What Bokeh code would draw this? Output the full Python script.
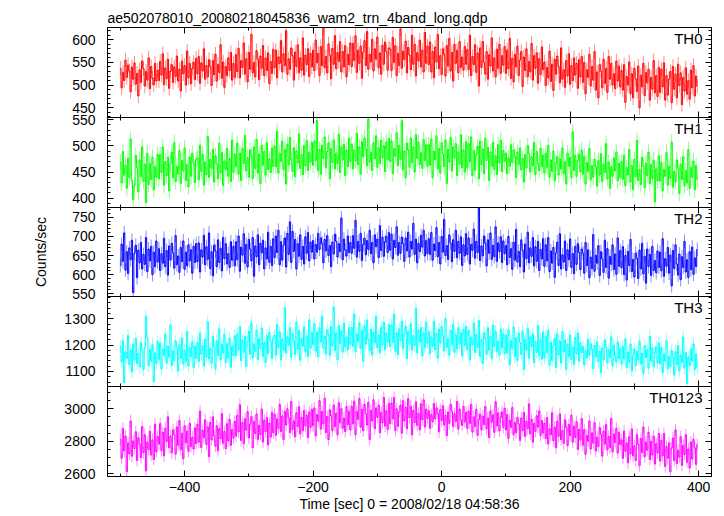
from bokeh.plotting import figure
from bokeh.models import (LinearAxis, SingleIntervalTicker, Range1d, Label,
                          ColumnDataSource, CustomLabelingPolicy)
from bokeh.layouts import column
from bokeh.embed import file_html
from bokeh.resources import INLINE

# ---------------- data (counts/sec, 2 s bins starting at t = -500 s) ----------------
TIME_START = -500
TIME_STEP = 2

TH0 = [
    537, 494, 528, 510, 555, 517, 544, 531, 485, 540, 513, 549, 502, 526, 476, 534, 506, 553, 536, 498, 530, 511, 560, 492, 541, 515, 501, 548, 509, 533,
    510, 552, 522, 569, 501, 538, 514, 557, 493, 531, 545, 506, 540, 519, 564, 509, 535, 487, 553, 525, 543, 500, 575, 516, 548, 503, 537, 550, 512, 559,
    525, 563, 504, 549, 531, 580, 513, 543, 518, 556, 540, 499, 554, 523, 568, 509, 546, 528, 589, 515, 551, 495, 541, 521, 560, 532, 572, 511, 548, 517,
    567, 530, 581, 516, 554, 539, 593, 524, 558, 507, 572, 535, 612, 527, 550, 518, 576, 557, 512, 564, 537, 587, 521, 560, 532, 571, 503, 552, 526, 579,
    538, 577, 516, 562, 548, 598, 529, 569, 543, 620, 524, 558, 535, 582, 565, 511, 573, 541, 589, 527, 560, 533, 604, 522, 566, 545, 580, 519, 570, 540,
    577, 532, 599, 549, 570, 521, 585, 543, 626, 538, 563, 527, 591, 566, 514, 581, 546, 609, 536, 572, 552, 596, 529, 574, 540, 587, 518, 568, 545, 593,
    541, 592, 554, 609, 528, 577, 548, 586, 515, 573, 598, 543, 618, 535, 568, 551, 601, 531, 580, 557, 606, 538, 571, 524, 588, 546, 595, 574, 533, 582,
    579, 532, 605, 550, 587, 521, 570, 543, 624, 537, 575, 556, 597, 527, 583, 566, 534, 610, 546, 590, 520, 572, 553, 599, 540, 577, 529, 616, 548, 586,
    545, 595, 529, 574, 516, 584, 551, 612, 536, 565, 523, 580, 568, 520, 587, 542, 603, 531, 572, 509, 590, 548, 577, 527, 596, 539, 562, 533, 585, 546,
    578, 534, 610, 521, 563, 545, 589, 528, 571, 498, 582, 539, 596, 550, 524, 574, 513, 567, 542, 604, 531, 560, 518, 579, 537, 590, 526, 565, 544, 585,
    526, 577, 536, 603, 515, 559, 507, 568, 540, 586, 521, 555, 574, 497, 562, 532, 580, 518, 552, 529, 592, 511, 565, 537, 571, 504, 558, 523, 584, 534,
    551, 499, 539, 516, 575, 508, 546, 488, 557, 524, 564, 541, 505, 582, 513, 534, 495, 554, 520, 569, 502, 543, 510, 560, 522, 548, 493, 556, 518, 563,
    506, 550, 481, 534, 517, 568, 498, 541, 511, 574, 489, 529, 472, 545, 531, 494, 557, 504, 537, 484, 563, 513, 548, 500, 525, 492, 553, 509, 542, 496,
    532, 489, 545, 462, 519, 500, 551, 481, 525, 472, 537, 514, 486, 542, 450, 522, 496, 548, 477, 528, 505, 535, 467, 517, 491, 554, 483, 521, 475, 539,
    484, 535, 496, 549, 467, 521, 478, 513, 530, 461, 541, 491, 524, 472, 546, 499, 527, 457, 517, 487, 538, 480, 510, 469, 533, 494, 543, 476, 520, 497,
]

TH1 = [
    469, 429, 489, 444, 463, 419, 476, 439, 513, 434, 397, 424, 482, 459, 412, 473, 441, 498, 432, 465, 392, 486, 426, 466, 436, 478, 416, 461, 440, 484,
    437, 483, 449, 498, 425, 470, 443, 478, 414, 466, 488, 439, 506, 432, 461, 446, 491, 428, 472, 452, 496, 434, 464, 422, 479, 442, 486, 467, 430, 474,
    477, 435, 501, 451, 484, 425, 469, 445, 518, 440, 474, 457, 493, 431, 481, 466, 437, 505, 448, 487, 424, 471, 454, 495, 442, 476, 432, 511, 449, 484,
    460, 505, 446, 486, 434, 495, 466, 520, 452, 478, 440, 492, 481, 438, 498, 457, 512, 448, 484, 428, 501, 463, 489, 444, 506, 455, 475, 449, 496, 461,
    499, 460, 528, 448, 486, 470, 509, 454, 493, 427, 503, 464, 516, 474, 451, 496, 441, 490, 467, 523, 457, 483, 445, 500, 462, 510, 453, 488, 469, 506,
    463, 509, 472, 548, 453, 493, 446, 501, 476, 517, 458, 489, 506, 437, 495, 468, 511, 456, 486, 466, 522, 449, 498, 473, 503, 443, 492, 460, 515, 470,
    503, 456, 492, 471, 524, 464, 498, 446, 508, 479, 515, 494, 462, 551, 469, 488, 453, 506, 475, 519, 459, 496, 466, 511, 477, 500, 451, 507, 473, 514,
    470, 509, 447, 495, 480, 525, 462, 501, 474, 548, 454, 490, 439, 505, 492, 459, 515, 468, 498, 450, 521, 476, 507, 464, 487, 457, 512, 472, 502, 461,
    502, 463, 513, 439, 490, 473, 519, 456, 495, 448, 506, 485, 460, 511, 428, 493, 469, 516, 452, 498, 477, 504, 443, 488, 465, 521, 458, 492, 450, 508,
    458, 504, 469, 517, 443, 491, 453, 484, 499, 437, 509, 464, 494, 447, 514, 472, 497, 434, 488, 461, 507, 455, 481, 445, 502, 467, 511, 451, 491, 470,
    486, 447, 477, 461, 502, 468, 492, 480, 439, 488, 464, 496, 454, 476, 431, 483, 458, 500, 485, 450, 479, 462, 506, 445, 489, 466, 453, 495, 460, 482,
    448, 486, 459, 501, 440, 473, 451, 490, 433, 467, 479, 444, 475, 456, 496, 447, 470, 427, 486, 461, 478, 439, 527, 453, 482, 442, 472, 484, 450, 492,
    446, 480, 427, 468, 451, 495, 435, 462, 440, 474, 460, 423, 472, 444, 485, 432, 465, 449, 504, 437, 469, 419, 460, 442, 477, 452, 488, 433, 467, 439,
    470, 436, 482, 424, 458, 445, 493, 431, 462, 416, 474, 441, 510, 434, 455, 426, 478, 461, 420, 467, 443, 488, 428, 464, 438, 473, 393, 456, 433, 481,
    433, 468, 414, 455, 442, 487, 425, 461, 438, 507, 421, 451, 431, 473, 458, 409, 465, 436, 479, 424, 453, 429, 493, 419, 459, 440, 471, 416, 462, 435,
]

TH2 = [
    624, 680, 635, 709, 612, 660, 603, 670, 639, 690, 553, 656, 677, 592, 664, 631, 684, 615, 653, 627, 697, 608, 667, 636, 674, 600, 659, 621, 688, 633,
    668, 611, 655, 630, 695, 621, 663, 599, 675, 638, 682, 657, 617, 702, 626, 649, 606, 671, 634, 688, 614, 659, 623, 678, 636, 665, 604, 674, 632, 681,
    634, 683, 607, 665, 646, 703, 626, 673, 640, 709, 616, 660, 597, 677, 662, 621, 691, 632, 669, 610, 697, 642, 681, 628, 655, 619, 686, 638, 674, 623,
    686, 639, 701, 609, 672, 651, 707, 630, 679, 620, 692, 667, 636, 697, 596, 675, 647, 704, 626, 682, 657, 690, 615, 670, 641, 711, 632, 674, 624, 694,
    645, 701, 658, 716, 626, 686, 638, 677, 696, 620, 708, 653, 738, 632, 713, 661, 692, 615, 681, 648, 704, 640, 674, 628, 699, 656, 710, 636, 685, 659,
    689, 641, 679, 659, 708, 666, 696, 682, 631, 692, 662, 702, 650, 676, 621, 685, 654, 706, 687, 646, 681, 660, 748, 639, 693, 664, 649, 701, 658, 684,
    656, 702, 669, 742, 646, 687, 661, 708, 637, 679, 695, 652, 689, 666, 716, 655, 684, 631, 704, 673, 693, 645, 728, 663, 698, 648, 686, 700, 658, 710,
    664, 706, 641, 690, 671, 725, 651, 684, 656, 698, 681, 635, 696, 662, 711, 646, 687, 667, 734, 653, 693, 631, 682, 660, 703, 672, 716, 649, 689, 655,
    694, 653, 710, 638, 680, 663, 723, 647, 684, 628, 700, 659, 744, 650, 676, 640, 704, 683, 634, 691, 661, 716, 644, 687, 656, 699, 624, 678, 649, 707,
    653, 696, 628, 679, 664, 719, 643, 687, 658, 774, 637, 675, 649, 701, 682, 623, 691, 656, 709, 640, 677, 647, 725, 635, 683, 660, 699, 632, 688, 655,
    676, 626, 700, 645, 668, 614, 685, 638, 718, 633, 661, 621, 691, 664, 607, 680, 642, 711, 631, 670, 648, 697, 623, 673, 635, 687, 611, 666, 641, 694,
    622, 678, 636, 697, 608, 662, 630, 671, 593, 657, 685, 624, 707, 615, 652, 633, 688, 611, 665, 639, 693, 619, 655, 603, 674, 627, 681, 658, 613, 667,
    656, 604, 684, 624, 665, 592, 646, 616, 705, 609, 651, 630, 676, 598, 660, 641, 606, 690, 619, 668, 591, 648, 627, 678, 613, 654, 601, 696, 622, 663,
    618, 673, 600, 650, 586, 661, 624, 692, 608, 640, 594, 656, 643, 590, 664, 615, 682, 602, 648, 578, 667, 621, 653, 598, 674, 611, 637, 605, 662, 619,
    659, 610, 694, 596, 642, 622, 671, 604, 651, 571, 663, 616, 678, 628, 599, 654, 587, 647, 619, 687, 607, 639, 593, 660, 613, 672, 601, 644, 621, 666,
]

TH3 = [
    1195, 1136, 1218, 1058, 1174, 1150, 1237, 1126, 1181, 1099, 1203, 1144, 1225, 1131, 1168, 1117, 1210, 1179, 1107, 1190, 1308, 1227, 1122, 1184, 1139, 1202, 1062, 1171, 1130, 1214,
    1146, 1208, 1110, 1184, 1162, 1242, 1131, 1195, 1154, 1277, 1123, 1178, 1141, 1216, 1189, 1102, 1202, 1150, 1227, 1128, 1181, 1138, 1251, 1120, 1190, 1157, 1213, 1115, 1197, 1149,
    1210, 1138, 1246, 1166, 1199, 1121, 1223, 1156, 1289, 1148, 1188, 1130, 1233, 1193, 1110, 1217, 1161, 1262, 1145, 1202, 1170, 1241, 1134, 1206, 1151, 1226, 1116, 1196, 1159, 1236,
    1161, 1243, 1182, 1270, 1141, 1219, 1173, 1233, 1120, 1213, 1253, 1165, 1285, 1152, 1205, 1177, 1257, 1145, 1224, 1187, 1265, 1157, 1209, 1134, 1237, 1169, 1248, 1214, 1149, 1227,
    1237, 1162, 1279, 1191, 1250, 1144, 1223, 1180, 1342, 1170, 1231, 1200, 1266, 1154, 1244, 1216, 1165, 1287, 1184, 1255, 1143, 1226, 1196, 1269, 1175, 1234, 1157, 1296, 1188, 1248,
    1202, 1282, 1177, 1249, 1156, 1265, 1212, 1310, 1188, 1234, 1167, 1258, 1239, 1162, 1270, 1198, 1345, 1180, 1246, 1145, 1274, 1207, 1254, 1174, 1284, 1193, 1230, 1183, 1266, 1204,
    1267, 1196, 1318, 1175, 1243, 1214, 1284, 1187, 1255, 1139, 1273, 1204, 1295, 1222, 1180, 1260, 1163, 1249, 1209, 1308, 1191, 1238, 1171, 1268, 1201, 1286, 1183, 1246, 1212, 1278,
    1195, 1276, 1211, 1318, 1177, 1247, 1164, 1262, 1217, 1291, 1187, 1241, 1271, 1148, 1252, 1204, 1281, 1182, 1236, 1199, 1340, 1171, 1257, 1212, 1267, 1159, 1246, 1190, 1287, 1207,
    1252, 1168, 1232, 1196, 1290, 1183, 1244, 1151, 1261, 1208, 1272, 1236, 1178, 1301, 1191, 1224, 1162, 1256, 1202, 1280, 1173, 1239, 1186, 1266, 1205, 1247, 1159, 1260, 1199, 1271,
    1184, 1255, 1144, 1229, 1202, 1284, 1172, 1240, 1192, 1293, 1157, 1221, 1130, 1247, 1224, 1165, 1266, 1181, 1234, 1149, 1276, 1196, 1252, 1175, 1215, 1162, 1260, 1189, 1242, 1168,
    1238, 1170, 1259, 1126, 1218, 1187, 1269, 1157, 1227, 1142, 1246, 1210, 1165, 1254, 1107, 1222, 1181, 1264, 1150, 1232, 1195, 1243, 1134, 1214, 1173, 1274, 1160, 1221, 1147, 1250,
    1151, 1233, 1171, 1255, 1124, 1211, 1142, 1198, 1225, 1115, 1243, 1163, 1215, 1132, 1251, 1175, 1220, 1108, 1204, 1156, 1238, 1145, 1193, 1127, 1230, 1167, 1246, 1139, 1209, 1172,
    1194, 1125, 1180, 1151, 1223, 1162, 1205, 1184, 1111, 1199, 1156, 1213, 1138, 1176, 1096, 1189, 1144, 1220, 1192, 1132, 1183, 1152, 1231, 1122, 1200, 1159, 1136, 1212, 1149, 1188,
    1129, 1196, 1148, 1224, 1115, 1174, 1136, 1204, 1102, 1163, 1185, 1123, 1177, 1144, 1216, 1128, 1169, 1092, 1198, 1153, 1182, 1113, 1233, 1139, 1190, 1118, 1172, 1193, 1132, 1208,
    1129, 1190, 1095, 1167, 1139, 1217, 1110, 1158, 1118, 1179, 1153, 1087, 1175, 1126, 1198, 1103, 1163, 1134, 1231, 1113, 1171, 1055, 1155, 1123, 1185, 1140, 1204, 1107, 1166, 1116,
]

TH0123 = [
    2812, 2695, 2878, 2740, 2832, 2612, 2790, 2722, 2925, 2708, 2802, 2755, 2858, 2682, 2822, 2780, 2700, 2890, 2730, 2840, 2618, 2795, 2748, 2862, 2715, 2808, 2688, 2905, 2735, 2830,
    2782, 2908, 2742, 2855, 2710, 2880, 2798, 2950, 2760, 2832, 2728, 2870, 2840, 2720, 2888, 2775, 2928, 2748, 2850, 2692, 2895, 2790, 2862, 2738, 2910, 2768, 2825, 2752, 2882, 2785,
    2905, 2795, 2985, 2762, 2868, 2822, 2932, 2780, 2888, 2705, 2915, 2808, 2950, 2835, 2770, 2895, 2742, 2878, 2815, 2970, 2788, 2860, 2755, 2908, 2802, 2935, 2775, 2872, 2820, 2922,
    2832, 2960, 2858, 3025, 2805, 2915, 2785, 2938, 2868, 2982, 2820, 2905, 2952, 2760, 2922, 2848, 2968, 2812, 2898, 2840, 2998, 2795, 2930, 2860, 2945, 2778, 2912, 2825, 2978, 2852,
    2967, 2837, 2937, 2880, 3027, 2860, 2955, 2810, 2983, 2900, 3000, 2943, 2853, 3045, 2873, 2925, 2827, 2975, 2890, 3013, 2845, 2947, 2865, 2990, 2895, 2960, 2823, 2980, 2885, 2997,
    2895, 3005, 2833, 2965, 2923, 3050, 2875, 2983, 2907, 3065, 2853, 2953, 2810, 2993, 2957, 2865, 3023, 2890, 2973, 2840, 3037, 2913, 3000, 2880, 2943, 2860, 3013, 2903, 2985, 2870,
    3015, 2907, 3047, 2840, 2983, 2935, 3063, 2887, 2997, 2865, 3027, 2970, 2900, 3040, 2810, 2990, 2925, 3055, 2877, 3005, 2947, 3023, 2853, 2977, 2913, 3070, 2893, 2987, 2873, 3033,
    2908, 3035, 2938, 3070, 2865, 3000, 2892, 2980, 3022, 2850, 3050, 2925, 3008, 2878, 3062, 2945, 3015, 2840, 2990, 2915, 3042, 2898, 2972, 2870, 3030, 2932, 3055, 2888, 2998, 2940,
    2988, 2880, 2965, 2920, 3032, 2938, 3005, 2972, 2858, 2995, 2928, 3018, 2900, 2960, 2835, 2980, 2910, 3028, 2985, 2890, 2970, 2922, 3045, 2875, 2998, 2932, 2898, 3015, 2918, 2978,
    2880, 2985, 2910, 3027, 2857, 2950, 2890, 2997, 2837, 2933, 2967, 2870, 2955, 2903, 3015, 2877, 2943, 2823, 2987, 2917, 2963, 2855, 3043, 2895, 2975, 2863, 2947, 2980, 2885, 3003,
    2870, 2965, 2817, 2930, 2885, 3007, 2840, 2915, 2853, 2947, 2907, 2805, 2943, 2865, 2977, 2830, 2923, 2877, 3030, 2845, 2935, 2795, 2910, 2860, 2957, 2887, 2987, 2835, 2927, 2850,
    2910, 2817, 2945, 2783, 2877, 2840, 2975, 2803, 2887, 2760, 2923, 2830, 2968, 2810, 2867, 2787, 2933, 2885, 2773, 2903, 2835, 2960, 2795, 2893, 2823, 2920, 2750, 2873, 2807, 2940,
    2775, 2872, 2720, 2835, 2800, 2925, 2752, 2852, 2788, 2915, 2740, 2825, 2768, 2885, 2842, 2708, 2862, 2782, 2902, 2748, 2830, 2762, 2940, 2735, 2845, 2792, 2880, 2728, 2855, 2780,
    2808, 2695, 2862, 2738, 2790, 2668, 2828, 2722, 2875, 2710, 2772, 2682, 2842, 2780, 2650, 2818, 2730, 2888, 2705, 2795, 2745, 2855, 2688, 2800, 2715, 2832, 2660, 2785, 2728, 2848,
    2678, 2805, 2710, 2848, 2645, 2768, 2695, 2790, 2612, 2758, 2820, 2682, 2870, 2662, 2745, 2702, 2828, 2652, 2775, 2718, 2840, 2670, 2752, 2635, 2795, 2690, 2812, 2760, 2658, 2780,
]

# typical 1-sigma error bar half-height of each band (counts/sec)
ERRORS = [16, 15, 18, 24, 37]

BANDS = ["TH0", "TH1", "TH2", "TH3", "TH0123"]
SERIES = [TH0, TH1, TH2, TH3, TH0123]
COLORS = ["#ff0000", "#00ff00", "#0000ff", "#00ffff", "#ff00ff"]
Y_RANGES = [(428.6, 627.0), (382.3, 554.0), (543.0, 775.5), (1043.0, 1384.6), (2583.0, 3137.0)]
Y_MAJOR = [50, 50, 50, 100, 200]
Y_MINOR_N = [5, 5, 5, 5, 4]
X_RANGE = (-520, 420)

TITLE = "ae502078010_20080218045836_wam2_trn_4band_long.qdp"
X_LABEL = "Time [sec] 0 = 2008/02/18 04:58:36"
Y_LABEL = "Counts/sec"

FONT = "Liberation Sans"

# ---------------- layout ----------------
FRAME_W = 604
FRAME_H = [90, 90, 89, 90, 90]
TOP_BORDER = 27
BOTTOM_BORDER = 40
LEFT_BORDER = 107
RIGHT_BORDER = 13
OV = 10  # transparent overlap so that edge tick labels are not clipped

xr = Range1d(*X_RANGE)
x_ticker = SingleIntervalTicker(interval=200, num_minor_ticks=2)
hide_labels = CustomLabelingPolicy(code="return []")


def style_axis(ax, ticker, labels):
    ax.ticker = ticker
    ax.axis_line_color = "black"
    ax.axis_line_width = 1
    ax.major_tick_line_color = "black"
    ax.minor_tick_line_color = "black"
    ax.major_tick_in = 6
    ax.major_tick_out = 0
    ax.minor_tick_in = 3
    ax.minor_tick_out = 0
    ax.major_label_text_font = FONT
    ax.major_label_text_color = "black"
    if labels:
        ax.major_label_text_font_size = "14px"
    else:
        ax.major_label_text_font_size = "0px"
        ax.major_label_standoff = 0
        ax.major_label_policy = hide_labels


figs = []
n = len(SERIES)
for i in range(n):
    first = i == 0
    last = i == n - 1
    p = figure(
        frame_width=FRAME_W, frame_height=FRAME_H[i],
        x_range=xr, y_range=Range1d(*Y_RANGES[i]),
        output_backend="svg", toolbar_location=None,
        min_border_left=LEFT_BORDER, min_border_right=RIGHT_BORDER,
        min_border_top=TOP_BORDER if first else OV,
        min_border_bottom=BOTTOM_BORDER if last else OV,
        title=TITLE if first else None,
    )
    if not first:
        p.margin = (-2 * OV, 0, 0, 0)
    p.outline_line_color = "black"
    p.background_fill_color = "white"
    p.border_fill_color = None
    p.xgrid.grid_line_color = None
    p.ygrid.grid_line_color = None
    if first:
        p.title.text_font = FONT
        p.title.text_font_size = "14px"
        p.title.text_font_style = "normal"
        p.title.text_color = "black"
        p.title.align = "left"
        p.title.standoff = 4

    y_ticker = SingleIntervalTicker(interval=Y_MAJOR[i], num_minor_ticks=Y_MINOR_N[i])

    xb = p.xaxis[0]
    style_axis(xb, x_ticker, last)
    if last:
        xb.major_label_standoff = 5
        xb.axis_label = X_LABEL
        xb.axis_label_text_font = FONT
        xb.axis_label_text_font_size = "14px"
        xb.axis_label_text_font_style = "normal"
        xb.axis_label_text_color = "black"
        xb.axis_label_standoff = 1

    yl = p.yaxis[0]
    style_axis(yl, y_ticker, True)
    yl.major_label_standoff = 12
    if i == 2:
        yl.axis_label = Y_LABEL
        yl.axis_label_text_font = FONT
        yl.axis_label_text_font_size = "14px"
        yl.axis_label_text_font_style = "normal"
        yl.axis_label_text_color = "black"
        yl.axis_label_standoff = 20

    xa = LinearAxis()
    style_axis(xa, x_ticker, False)
    p.add_layout(xa, "above")
    yr_ax = LinearAxis()
    style_axis(yr_ax, y_ticker, False)
    p.add_layout(yr_ax, "right")

    vals = SERIES[i]
    err = ERRORS[i]
    t = [TIME_START + TIME_STEP * k for k in range(len(vals))]
    src = ColumnDataSource(data=dict(
        t=t, rate=vals,
        lo=[v - err for v in vals], hi=[v + err for v in vals],
    ))
    # error bars (lighter) and the light curve itself
    p.segment(x0="t", y0="lo", x1="t", y1="hi", source=src,
              line_color=COLORS[i], line_alpha=0.45, line_width=1)
    p.step("t", "rate", source=src, mode="center",
           line_color=COLORS[i], line_width=1)

    p.add_layout(Label(
        x=X_RANGE[1], y=Y_RANGES[i][1], x_offset=-9, y_offset=-2,
        text=BANDS[i], text_align="right", text_baseline="top",
        text_font=FONT, text_font_size="15px", text_color="black",
    ))
    figs.append(p)

layout = column(*figs, spacing=0)

open("out.html", "w").write(file_html(layout, INLINE, title="lightcurve"))
